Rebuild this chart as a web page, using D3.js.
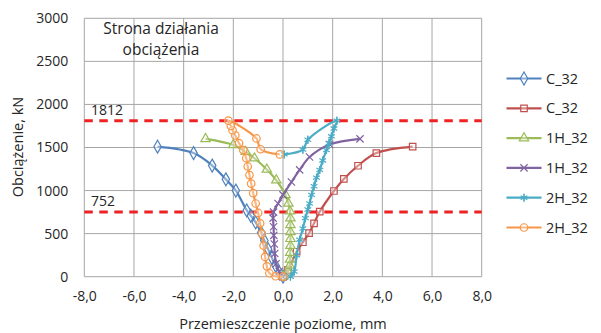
<!DOCTYPE html>
<html>
<head>
<meta charset="utf-8">
<script src="https://cdn.jsdelivr.net/npm/d3@7"></script>
<style>
  html, body { margin: 0; padding: 0; background: #fff; }
  svg { display: block; font-family: "Open Sans", "Noto Sans", sans-serif; }
</style>
</head>
<body>
<svg id="chart" width="601" height="333"></svg>
<script>
// Load–displacement curves: [horizontal displacement (mm), load (kN)]
const seriesNames = ["C_32", "C_32", "1H_32", "1H_32", "2H_32", "2H_32"];
const seriesColors = ["#4F81BD", "#C0504D", "#9BBB59", "#8064A2", "#4BACC6", "#F79646"];

const c32Left = [[0,0],[-0.15,50],[-0.3,130],[-0.45,220],[-0.6,320],[-0.75,420],[-0.88,510],[-1.1,630],[-1.3,710],[-1.46,770],[-1.9,1000],[-2.3,1130],[-2.85,1290],[-3.6,1435],[-5.05,1510]];
const c32Right = [[0,0],[0.2,80],[0.55,290],[0.8,400],[1.05,505],[1.25,620],[1.48,755],[2.05,995],[2.45,1135],[3.02,1288],[3.76,1435],[5.22,1510]];
const h1Left = [[0,0],[0.2,60],[0.27,130],[0.28,200],[0.29,280],[0.3,360],[0.3,440],[0.3,520],[0.3,600],[0.3,680],[0.28,760],[0.22,850],[0.1,950],[-0.27,1120],[-0.65,1245],[-1.15,1375],[-1.5,1450],[-2.0,1530],[-3.12,1600]];
const h1Right = [[0,0],[-0.15,60],[-0.28,150],[-0.33,270],[-0.35,380],[-0.37,480],[-0.38,580],[-0.4,680],[-0.38,750],[-0.2,850],[0,950],[0.34,1100],[0.67,1240],[1.07,1390],[1.88,1535],[3.1,1600]];
const h2Right = [[0.3,0],[0.45,60],[0.55,250],[0.67,430],[0.8,560],[0.9,680],[1.0,780],[1.07,850],[1.15,950],[1.25,1050],[1.35,1150],[1.48,1240],[1.6,1350],[1.75,1470],[1.85,1550],[1.95,1630],[2.05,1720],[2.17,1812],[1.0,1590],[0.8,1475],[0.05,1420]];
const h2Left = [[0,0],[-0.3,5],[-0.55,40],[-0.65,120],[-0.72,230],[-0.78,360],[-0.85,500],[-0.92,620],[-1.0,740],[-1.1,850],[-1.2,970],[-1.28,1080],[-1.35,1180],[-1.42,1280],[-1.48,1375],[-1.6,1470],[-1.77,1550],[-1.92,1640],[-2.03,1700],[-2.1,1750],[-2.2,1812],[-1.07,1605],[-0.9,1480],[-0.13,1420]];
const seriesData = [c32Left, c32Right, h1Left, h1Right, h2Right, h2Left];

const xTicks = [-8, -6, -4, -2, 0, 2, 4, 6, 8];
const yTicks = [0, 500, 1000, 1500, 2000, 2500, 3000];
const refLoads = [1812, 752];

const svg = d3.select("#chart");
const plotLeft = 84.3, plotRight = 481.7, plotTop = 18.3, plotBottom = 276.7;

const x = d3.scaleLinear().domain([-8, 8]).range([plotLeft, plotRight]);
const y = d3.scaleLinear().domain([0, 3000]).range([plotBottom, plotTop]);
const fmtX = d => d.toFixed(1).replace(".", ",");
const fmtY = d => String(d);
const textColor = "#262626";

// grid
const grid = svg.append("g").attr("stroke", "#a6a6a6").attr("stroke-width", 1);
xTicks.forEach(t => grid.append("line")
  .attr("x1", x(t)).attr("x2", x(t)).attr("y1", plotTop).attr("y2", plotBottom));
yTicks.forEach(t => grid.append("line")
  .attr("x1", plotLeft).attr("x2", plotRight).attr("y1", y(t)).attr("y2", y(t)));

// axes
const xAxis = svg.append("g").attr("transform", `translate(0,${plotBottom})`)
  .call(d3.axisBottom(x).tickValues(xTicks).tickFormat(fmtX).tickSize(0).tickPadding(14));
const yAxis = svg.append("g").attr("transform", `translate(${plotLeft},0)`)
  .call(d3.axisLeft(y).tickValues(yTicks).tickFormat(fmtY).tickSize(0).tickPadding(16));
[xAxis, yAxis].forEach(a => {
  a.select(".domain").remove();
  a.selectAll("text").attr("font-size", 14).attr("fill", textColor)
    .attr("font-family", "'Open Sans', sans-serif");
});

// reference load levels
refLoads.forEach(v => {
  svg.append("line")
    .attr("x1", plotLeft).attr("x2", plotRight).attr("y1", y(v)).attr("y2", y(v))
    .attr("stroke", "#ee2222").attr("stroke-width", 3).attr("stroke-dasharray", "8.5,6.5");
  svg.append("text").attr("x", 91).attr("y", y(v) - 6)
    .attr("font-size", 14).attr("fill", textColor).text(v);
});

// annotation
const ann = svg.append("text").attr("text-anchor", "middle").attr("font-size", 15.5).attr("fill", textColor);
ann.append("tspan").attr("x", 161).attr("y", 34).text("Strona działania");
ann.append("tspan").attr("x", 161).attr("y", 55).text("obciążenia");

// series
const symbols = [d3.symbolDiamond, d3.symbolSquare, d3.symbolTriangle, d3.symbolX, d3.symbolAsterisk, d3.symbolCircle];
const symSize = [48, 42, 38, 36, 42, 44];
const line = d3.line().x(d => x(d[0])).y(d => y(d[1])).curve(d3.curveCatmullRom.alpha(0.5));

function drawMarker(g, i, cx, cy) {
  const strokeOnly = (i === 3 || i === 4);
  g.append("path")
    .attr("d", d3.symbol().type(symbols[i]).size(symSize[i])())
    .attr("transform", `translate(${cx},${cy})`)
    .attr("stroke", seriesColors[i]).attr("stroke-width", 1.2)
    .attr("fill", strokeOnly ? "none" : "rgba(255,255,255,0.35)");
  if (i === 4) {
    g.append("line").attr("x1", cx).attr("x2", cx).attr("y1", cy - 4).attr("y2", cy + 4)
      .attr("stroke", seriesColors[i]).attr("stroke-width", 1.2);
  }
}

seriesData.forEach((data, i) => {
  const g = svg.append("g");
  g.append("path").datum(data).attr("d", line)
    .attr("fill", "none").attr("stroke", seriesColors[i]).attr("stroke-width", 2.2);
  data.forEach(d => drawMarker(g, i, x(d[0]), y(d[1])));
});

// legend
const lg = svg.append("g");
seriesNames.forEach((name, i) => {
  const cy = 78.5 + i * 29.8;
  lg.append("line").attr("x1", 506.5).attr("x2", 541.5).attr("y1", cy).attr("y2", cy)
    .attr("stroke", seriesColors[i]).attr("stroke-width", 2.2);
  drawMarker(lg, i, 524, cy);
  lg.append("text").attr("x", 546).attr("y", cy + 5).attr("font-size", 14.5).attr("fill", textColor).text(name);
});

// axis titles
svg.append("text").attr("x", 283).attr("y", 329).attr("text-anchor", "middle")
  .attr("font-size", 14.5).attr("fill", textColor).text("Przemieszczenie poziome, mm");
svg.append("text").attr("transform", `translate(23,147) rotate(-90)`).attr("text-anchor", "middle")
  .attr("font-size", 14.5).attr("fill", textColor).text("Obciążenie, kN");
</script>
</body>
</html>
